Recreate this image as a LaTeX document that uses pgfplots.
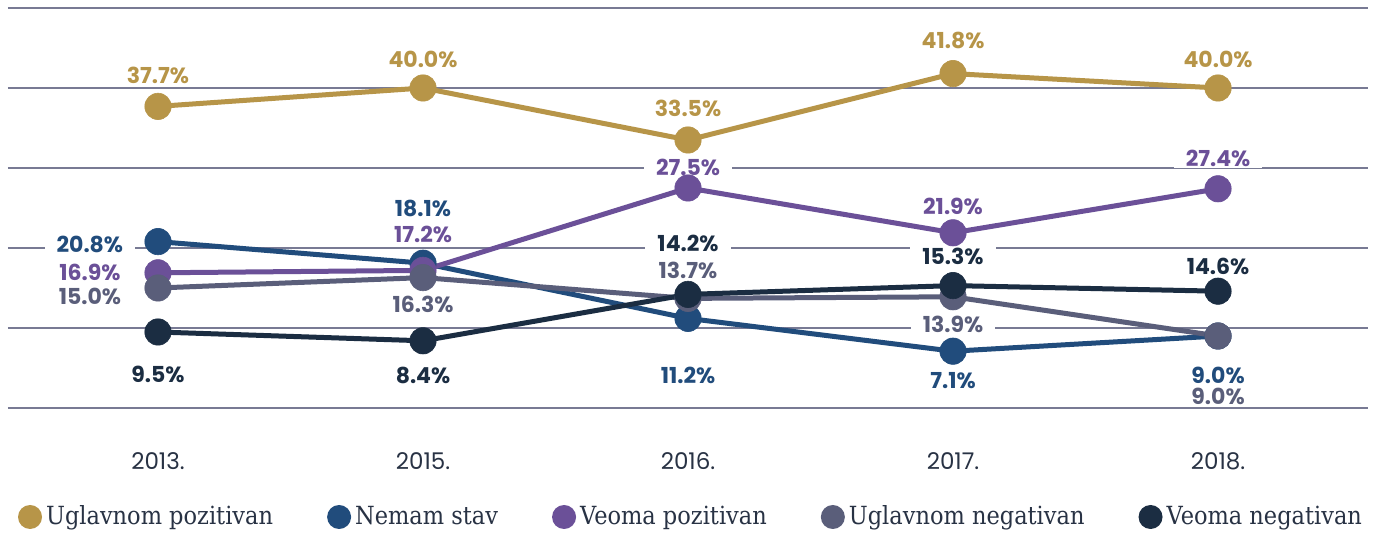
\documentclass[border=0pt]{standalone}
\usepackage{fontspec}
\setmainfont{DejaVu Serif}[FakeStretch=0.9]
\newfontfamily\numfont{Poppins}
\usepackage{pgfplots}
\pgfplotsset{compat=1.18}
\definecolor{cGold}{RGB}{183,149,72}
\definecolor{cBlue}{RGB}{33,76,124}
\definecolor{cPurple}{RGB}{107,80,152}
\definecolor{cGrey}{RGB}{90,94,122}
\definecolor{cNavy}{RGB}{27,45,66}
\definecolor{cGrid}{RGB}{120,122,148}
\definecolor{cText}{RGB}{40,50,68}
\newcommand{\lbl}[4]{\node[font=\numfont\bfseries\fontsize{11}{12}\selectfont, text=#1, fill=white, inner xsep=6pt, inner ysep=1pt] at (axis cs:#2,#3) {#4};}
\begin{document}
\begin{tikzpicture}
\fill[white] (-4pt,-62.5pt) rectangle (688.5pt,204pt);
\useasboundingbox (-4pt,-62.5pt) rectangle (688.5pt,204pt);
\begin{axis}[
  at={(0,0)}, anchor=south west,
  scale only axis, width=680pt, height=200pt,
  xmin=-0.566, xmax=4.566, ymin=0, ymax=50,
  axis line style={draw=none},
  ytick={0,10,...,50}, yticklabels={},
  ymajorgrids, grid style={color=cGrid, line width=0.75pt},
  major tick length=0pt,
  xtick={0,1,2,3,4},
  xticklabels={2013.,2015.,2016.,2017.,2018.},
  xticklabel style={font=\numfont\fontsize{11.5}{13}\selectfont, text=cText, anchor=center, yshift=-26.5pt},
  clip=false,
  legend columns=5,
  legend cell align=left,
  legend style={draw=none, fill=none, at={(axis description cs:0.5,0)}, anchor=center, yshift=-54.5pt, xshift=2pt,
    font=\fontsize{12.5}{14}\selectfont, text=cText,
    /tikz/every odd column/.append style={column sep=0pt},
    /tikz/every even column/.append style={column sep=25pt}},
  legend image code/.code={\fill[#1, draw=none] (0pt,0pt) circle (6pt);},
  every axis plot/.append style={line width=2.5pt, mark=*, mark size=6.6pt, mark options={line width=0.3pt}},
]
\addplot[color=cGold] coordinates {(0,37.7) (1,40.0) (2,33.5) (3,41.8) (4,40.0)};
\addlegendentry{Uglavnom pozitivan}
\addplot[color=cBlue] coordinates {(0,20.8) (1,18.1) (2,11.2) (3,7.1) (4,9.0)};
\addlegendentry{Nemam stav}
\addplot[color=cPurple] coordinates {(0,16.9) (1,17.2) (2,27.5) (3,21.9) (4,27.4)};
\addlegendentry{Veoma pozitivan}
\addplot[color=cGrey] coordinates {(0,15.0) (1,16.3) (2,13.7) (3,13.9) (4,9.0)};
\addlegendentry{Uglavnom negativan}
\addplot[color=cNavy] coordinates {(0,9.5) (1,8.4) (2,14.2) (3,15.3) (4,14.6)};
\addlegendentry{Veoma negativan}
% labels
\lbl{cGold}{0}{41.6}{37.7\%}
\lbl{cGold}{1}{43.6}{40.0\%}
\lbl{cGold}{2}{37.4}{33.5\%}
\lbl{cGold}{3}{45.9}{41.8\%}
\lbl{cGold}{4}{43.6}{40.0\%}
\lbl{cBlue}{-0.257}{20.4}{20.8\%}
\lbl{cBlue}{1}{25.0}{18.1\%}
\lbl{cBlue}{2}{4.1}{11.2\%}
\lbl{cBlue}{3}{3.4}{7.1\%}
\lbl{cBlue}{4}{4.1}{9.0\%}
\lbl{cPurple}{-0.257}{17.0}{16.9\%}
\lbl{cPurple}{1}{21.75}{17.2\%}
\lbl{cPurple}{2}{30.1}{27.5\%}
\lbl{cPurple}{3}{25.25}{21.9\%}
\lbl{cPurple}{4}{31.25}{27.4\%}
\lbl{cGrey}{-0.257}{13.9}{15.0\%}
\lbl{cGrey}{1}{12.9}{16.3\%}
\lbl{cGrey}{2}{17.25}{13.7\%}
\lbl{cGrey}{3}{10.5}{13.9\%}
\lbl{cGrey}{4}{1.5}{9.0\%}
\lbl{cNavy}{0}{4.25}{9.5\%}
\lbl{cNavy}{1}{4.1}{8.4\%}
\lbl{cNavy}{2}{20.6}{14.2\%}
\lbl{cNavy}{3}{19.0}{15.3\%}
\lbl{cNavy}{4}{17.75}{14.6\%}
\end{axis}
\end{tikzpicture}
\end{document}
